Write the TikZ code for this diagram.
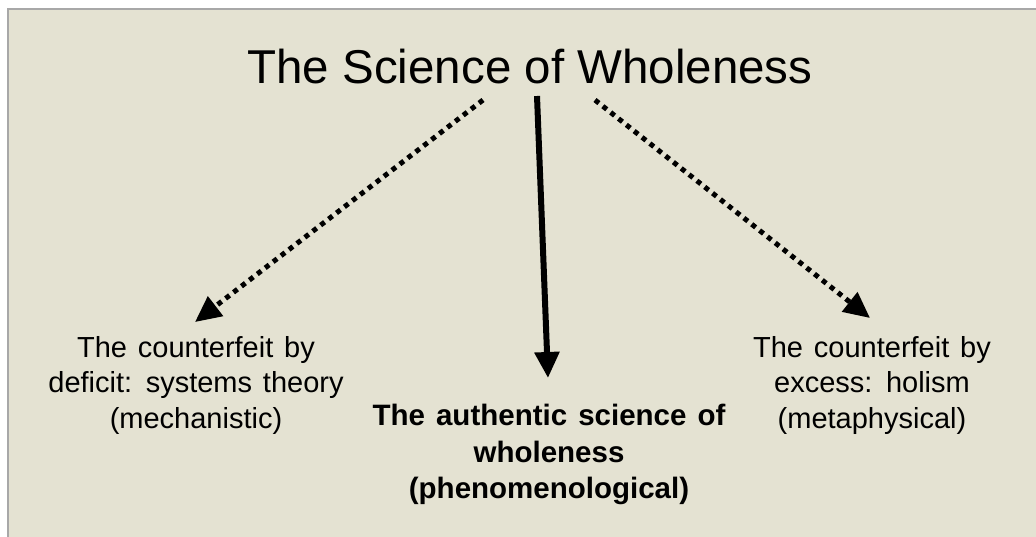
\documentclass[tikz,border=0pt]{standalone}
\usepackage{fontspec}
\setmainfont{Liberation Sans}
\newfontfamily\lblfont[WordSpace=1.35]{Liberation Sans}
\usetikzlibrary{arrows.meta}
\definecolor{bg}{HTML}{E4E2D2}
\definecolor{frame}{HTML}{A8A8A8}
\tikzset{
  lbl/.style={align=center, font=\lblfont\fontsize{29}{35.5}\selectfont, inner sep=0pt},
  dotarrow/.style={line width=5pt, dash pattern=on 5pt off 5pt, -{Triangle[length=26pt,width=24pt]}},
  solidarrow/.style={line width=6pt, -{Triangle[length=26pt,width=24pt]}}
}
\begin{document}
\begin{tikzpicture}[x=1pt,y=-1pt]
\useasboundingbox (0,0) rectangle (1036,536);
\fill[white] (0,0) rectangle (1036,536);
\fill[bg] (8,9) rectangle (1040,540);
\draw[frame, line width=2.5pt] (1040,9) -- (8,9) -- (8,540);
\node[inner sep=0pt, font=\fontsize{47.5}{55}\selectfont] (title) at (530,67) {The Science of Wholeness};
\coordinate (ls) at (483,100);
\coordinate (le) at (195,322);
\coordinate (ms) at (537,96);
\coordinate (me) at (548,378);
\coordinate (rs) at (595,100);
\coordinate (re) at (870,318);
\draw[dotarrow] (ls) -- (le);
\draw[solidarrow] (ms) -- (me);
\draw[dotarrow] (rs) -- (re);
\node[lbl, anchor=north] (left) at (196,336) {The counterfeit by\\deficit: systems theory\\(mechanistic)};
\node[lbl, anchor=north, font=\lblfont\bfseries\fontsize{29.5}{36.5}\selectfont] (mid) at (549,404) {The authentic science of\\wholeness\\(phenomenological)};
\node[lbl, anchor=north] (right) at (872,336) {The counterfeit by\\excess: holism\\(metaphysical)};
\end{tikzpicture}
\end{document}
